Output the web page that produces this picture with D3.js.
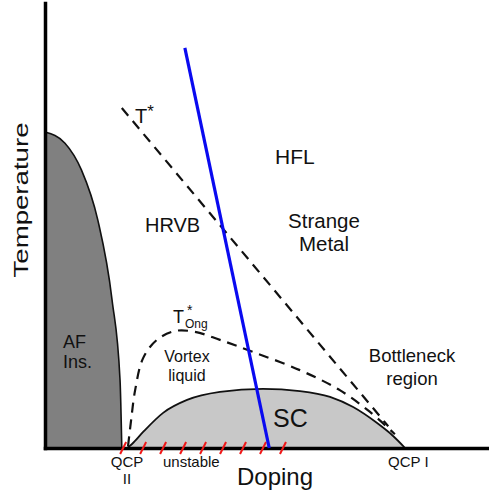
<!doctype html>
<meta charset=utf8>
<title>Phase diagram</title>
<style>
  body { margin: 0; background: white; }
  svg { display: block; }
  text { font-family: "Liberation Sans", Arial, Helvetica, sans-serif; fill: #111; }
  .axis path { stroke: black; stroke-width: 3.5; stroke-linecap: square; }
  .dash { fill: none; stroke: #111; stroke-width: 2.2; stroke-dasharray: 10,7; }
</style>
<svg width=489 height=492></svg>
<script src=https://d3js.org/d3.v7.min.js></script>
<script>
  // doping / temperature in arbitrary units (0-100)
  var afDoping = [0, 4.5, 8.2, 11.9, 15.1, 16.9, 17.3];
  var afTemp = [71, 68.5, 62.5, 51.2, 33.3, 15.3, 0];

  var scDoping = [18.5, 19.6, 22.1, 26.6, 32.0, 39.4, 49.1, 57.4, 64.2, 69.4, 74.8, 78.4, 81.1];
  var scTemp = [0, 0.9, 3.6, 7.9, 10.8, 12.6, 13.3, 12.8, 11.5, 9.2, 5.6, 2.7, 0];

  var ongDoping = [18.7, 19.4, 20.3, 22.1, 25.2, 29.3, 33.8, 39.4, 46.8, 57.4, 66.4, 73.2, 78.8];
  var ongTemp = [0.4, 6.3, 13.0, 20.2, 24.3, 26.3, 26.1, 24.3, 21.6, 17.5, 13.0, 8.1, 3.1];

  var starDoping = [17.3, 77.3];
  var starTemp = [76.4, 4.9];

  var blueDoping = [31.5, 50.5];
  var blueTemp = [89.9, 0];

  var unstableTicks = [17.6, 22.1, 26.6, 31.1, 35.6, 40.1, 44.6, 49.1, 53.6];

  var svg = d3.select('svg');
  var x = d3.scaleLinear().domain([0, 100]).range([45, 489]);
  var y = d3.scaleLinear().domain([0, 100]).range([448, 3]);

  function zip(xs, ys) {
    return xs.map(function(d, i) { return [d, ys[i]]; });
  }

  var area = d3.area()
    .curve(d3.curveMonotoneX)
    .x(function(d) { return x(d[0]); })
    .y0(y(0))
    .y1(function(d) { return y(d[1]); });

  var line = d3.line()
    .x(function(d) { return x(d[0]); })
    .y(function(d) { return y(d[1]); });

  // AF dome
  var af = zip(afDoping, afTemp);
  svg.append('path').attr('d', area(af)).attr('fill', '#808080');
  svg.append('path').attr('d', line.curve(d3.curveMonotoneX)(af))
    .attr('fill', 'none').attr('stroke', '#111').attr('stroke-width', 1.6);

  // SC dome
  var sc = zip(scDoping, scTemp);
  svg.append('path').attr('d', area(sc)).attr('fill', '#c8c8c8');
  svg.append('path').attr('d', line.curve(d3.curveMonotoneX)(sc))
    .attr('fill', 'none').attr('stroke', '#111').attr('stroke-width', 1.8);

  // dashed crossovers
  svg.append('path').attr('class', 'dash')
    .attr('d', line.curve(d3.curveLinear)(zip(starDoping, starTemp)));
  svg.append('path').attr('class', 'dash')
    .attr('d', line.curve(d3.curveCatmullRom)(zip(ongDoping, ongTemp)));

  // axes
  svg.append('g').attr('class', 'axis')
    .attr('transform', 'translate(' + x(0) + ',0)')
    .call(d3.axisLeft(y).ticks(0).tickSizeOuter(0));
  svg.append('g').attr('class', 'axis')
    .attr('transform', 'translate(0,' + y(0) + ')')
    .call(d3.axisBottom(x).ticks(0).tickSizeOuter(0));

  // unstable region marks
  svg.selectAll('.utick').data(unstableTicks).enter().append('line')
    .attr('class', 'utick')
    .attr('x1', function(d) { return x(d) - 3; })
    .attr('x2', function(d) { return x(d) + 3; })
    .attr('y1', y(0) + 6)
    .attr('y2', y(0) - 6)
    .attr('stroke', '#f01818').attr('stroke-width', 2);

  // blue line
  svg.append('path')
    .attr('d', line.curve(d3.curveLinear)(zip(blueDoping, blueTemp)))
    .attr('stroke', '#0a0af0').attr('stroke-width', 3.2).attr('fill', 'none');

  // labels
  function label(t, px, py, size, anchor) {
    return svg.append('text').attr('x', px).attr('y', py)
      .attr('font-size', size).attr('text-anchor', anchor || 'start').text(t);
  }

  svg.append('text')
    .attr('transform', 'translate(28,200) rotate(-90)')
    .attr('text-anchor', 'middle').attr('font-size', 21)
    .attr('textLength', 155).attr('lengthAdjust', 'spacingAndGlyphs')
    .text('Temperature');

  label('Doping', 237, 485, 24);
  label('QCP', 127, 467, 15, 'middle');
  label('II', 127, 484, 15, 'middle');
  label('unstable', 163, 467, 15);
  label('QCP I', 388, 467, 15);

  var ts = label('T', 135, 123, 20);
  ts.append('tspan').attr('font-size', 17).attr('dy', -6).text('*');

  label('HFL', 275, 164, 21);
  label('HRVB', 145, 232, 20);
  label('Strange', 324, 228, 20.5, 'middle');
  label('Metal', 324, 251, 20.5, 'middle');

  label('T', 173, 323, 18);
  label('*', 187, 315, 14);
  label('Ong', 185, 328, 12);

  label('Vortex', 187, 362, 16, 'middle');
  label('liquid', 187, 381, 16, 'middle');
  label('AF', 63, 348, 18);
  label('Ins.', 63, 368, 18);
  label('Bottleneck', 412, 362, 18.5, 'middle');
  label('region', 412, 385, 18.5, 'middle');
  label('SC', 273, 427, 25);
</script>
